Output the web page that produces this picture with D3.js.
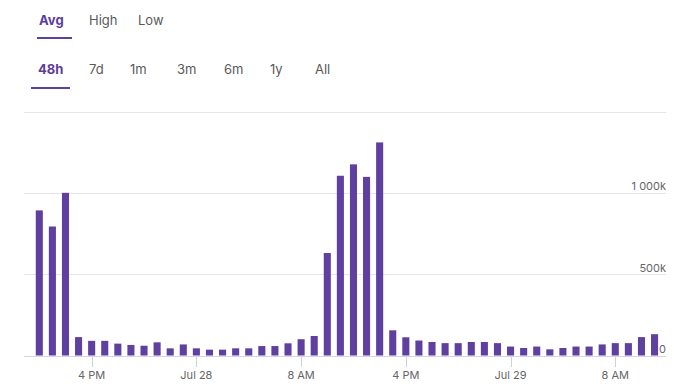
<!DOCTYPE html>
<html>
<head>
<meta charset="utf-8">
<script src="https://cdn.jsdelivr.net/npm/d3@7"></script>
<style>
  html, body { margin: 0; padding: 0; background: #ffffff; }
  svg { display: block; font-family: Inter, "Noto Sans", sans-serif; }
</style>
</head>
<body>
<svg id="chart" width="696" height="390"></svg>
<script>
// ---- data ----
const hours = [
  "Jul 27 12:00","Jul 27 13:00","Jul 27 14:00","Jul 27 15:00","Jul 27 16:00","Jul 27 17:00",
  "Jul 27 18:00","Jul 27 19:00","Jul 27 20:00","Jul 27 21:00","Jul 27 22:00","Jul 27 23:00",
  "Jul 28 00:00","Jul 28 01:00","Jul 28 02:00","Jul 28 03:00","Jul 28 04:00","Jul 28 05:00",
  "Jul 28 06:00","Jul 28 07:00","Jul 28 08:00","Jul 28 09:00","Jul 28 10:00","Jul 28 11:00",
  "Jul 28 12:00","Jul 28 13:00","Jul 28 14:00","Jul 28 15:00","Jul 28 16:00","Jul 28 17:00",
  "Jul 28 18:00","Jul 28 19:00","Jul 28 20:00","Jul 28 21:00","Jul 28 22:00","Jul 28 23:00",
  "Jul 29 00:00","Jul 29 01:00","Jul 29 02:00","Jul 29 03:00","Jul 29 04:00","Jul 29 05:00",
  "Jul 29 06:00","Jul 29 07:00","Jul 29 08:00","Jul 29 09:00","Jul 29 10:00","Jul 29 11:00"
];
const viewers = [
  892000, 793000, 1000000, 113000, 90000, 90000, 73000, 65000, 60000, 81000, 44000, 68000,
  44000, 36000, 36000, 44000, 44000, 58000, 58000, 75000, 100000, 120000, 630000, 1105000,
  1175000, 1098000, 1310000, 155000, 112000, 92000, 83000, 76000, 76000, 83000, 83000, 76000,
  55000, 46000, 55000, 38000, 46000, 55000, 55000, 68000, 76000, 76000, 113000, 131000
];
const xTickHours = ["Jul 27 16:00","Jul 28 00:00","Jul 28 08:00","Jul 28 16:00","Jul 29 00:00","Jul 29 08:00"];
const xTickLabels = ["4 PM","Jul 28","8 AM","4 PM","Jul 29","8 AM"];
const yTicks = [0, 500000, 1000000];
const yTickLabels = ["0", "500k", "1 000k"];
const yGrid = [500000, 1000000, 1500000];
const statTabs = ["Avg", "High", "Low"];
const rangeTabs = ["48h", "7d", "1m", "3m", "6m", "1y", "All"];

// ---- layout ----
const purple = "#5f3f9f";
const svg = d3.select("#chart");

const x = d3.scaleBand().domain(hours).range([32.75, 661.1]).paddingInner(0.46).paddingOuter(0.23);
const y = d3.scaleLinear().domain([0, 1500000]).range([355.5, 111.5]);
const gridX0 = 24, gridX1 = 666;

// tabs row 1
const tab1X = [39, 89, 138];
svg.append("g").selectAll("text").data(statTabs).join("text")
  .attr("x", (d, i) => tab1X[i]).attr("y", 25)
  .attr("font-size", 13)
  .attr("font-weight", (d, i) => i === 0 ? 700 : 400)
  .attr("fill", (d, i) => i === 0 ? "#5c3d9c" : "#5a5a5a")
  .text(d => d);
svg.append("rect").attr("x", 37).attr("y", 37).attr("width", 35).attr("height", 2).attr("fill", purple);

// tabs row 2
const tab2X = [38, 89, 130, 177, 224, 270, 315];
svg.append("g").selectAll("text").data(rangeTabs).join("text")
  .attr("x", (d, i) => tab2X[i]).attr("y", 74)
  .attr("font-size", 13)
  .attr("font-weight", (d, i) => i === 0 ? 700 : 400)
  .attr("fill", (d, i) => i === 0 ? "#5c3d9c" : "#5a5a5a")
  .text(d => d);
svg.append("rect").attr("x", 31).attr("y", 87).attr("width", 39).attr("height", 2).attr("fill", purple);

// gridlines
svg.append("g").selectAll("line").data(yGrid).join("line")
  .attr("x1", gridX0).attr("x2", gridX1)
  .attr("y1", d => Math.round(y(d)) + 0.5).attr("y2", d => Math.round(y(d)) + 0.5)
  .attr("stroke", "#e4e4ea").attr("stroke-width", 1);

// baseline
svg.append("line").attr("x1", gridX0).attr("x2", gridX1)
  .attr("y1", Math.round(y(0)) + 0.5).attr("y2", Math.round(y(0)) + 0.5)
  .attr("stroke", "#d3d6e2").attr("stroke-width", 1);

// bars
svg.append("g").selectAll("rect").data(viewers).join("rect")
  .attr("x", (d, i) => x(hours[i]))
  .attr("width", x.bandwidth())
  .attr("y", d => y(d))
  .attr("height", d => y(0) - y(d))
  .attr("fill", purple);

// x axis ticks
const xt = svg.append("g");
xt.selectAll("line").data(xTickHours).join("line")
  .attr("x1", d => Math.round(x(d) + x.bandwidth() / 2) + 0.5)
  .attr("x2", d => Math.round(x(d) + x.bandwidth() / 2) + 0.5)
  .attr("y1", 357).attr("y2", 367)
  .attr("stroke", "#c9d1e3").attr("stroke-width", 1);
xt.selectAll("text").data(xTickHours).join("text")
  .attr("x", d => x(d) + x.bandwidth() / 2)
  .attr("y", 379)
  .attr("text-anchor", "middle")
  .attr("font-size", 11)
  .attr("fill", "#666666")
  .text((d, i) => xTickLabels[i]);

// y axis labels
svg.append("g").selectAll("text").data(yTicks).join("text")
  .attr("x", gridX1)
  .attr("y", d => y(d) - 2.5)
  .attr("text-anchor", "end")
  .attr("font-size", 11)
  .attr("fill", "#666666")
  .text((d, i) => yTickLabels[i]);
</script>
</body>
</html>
